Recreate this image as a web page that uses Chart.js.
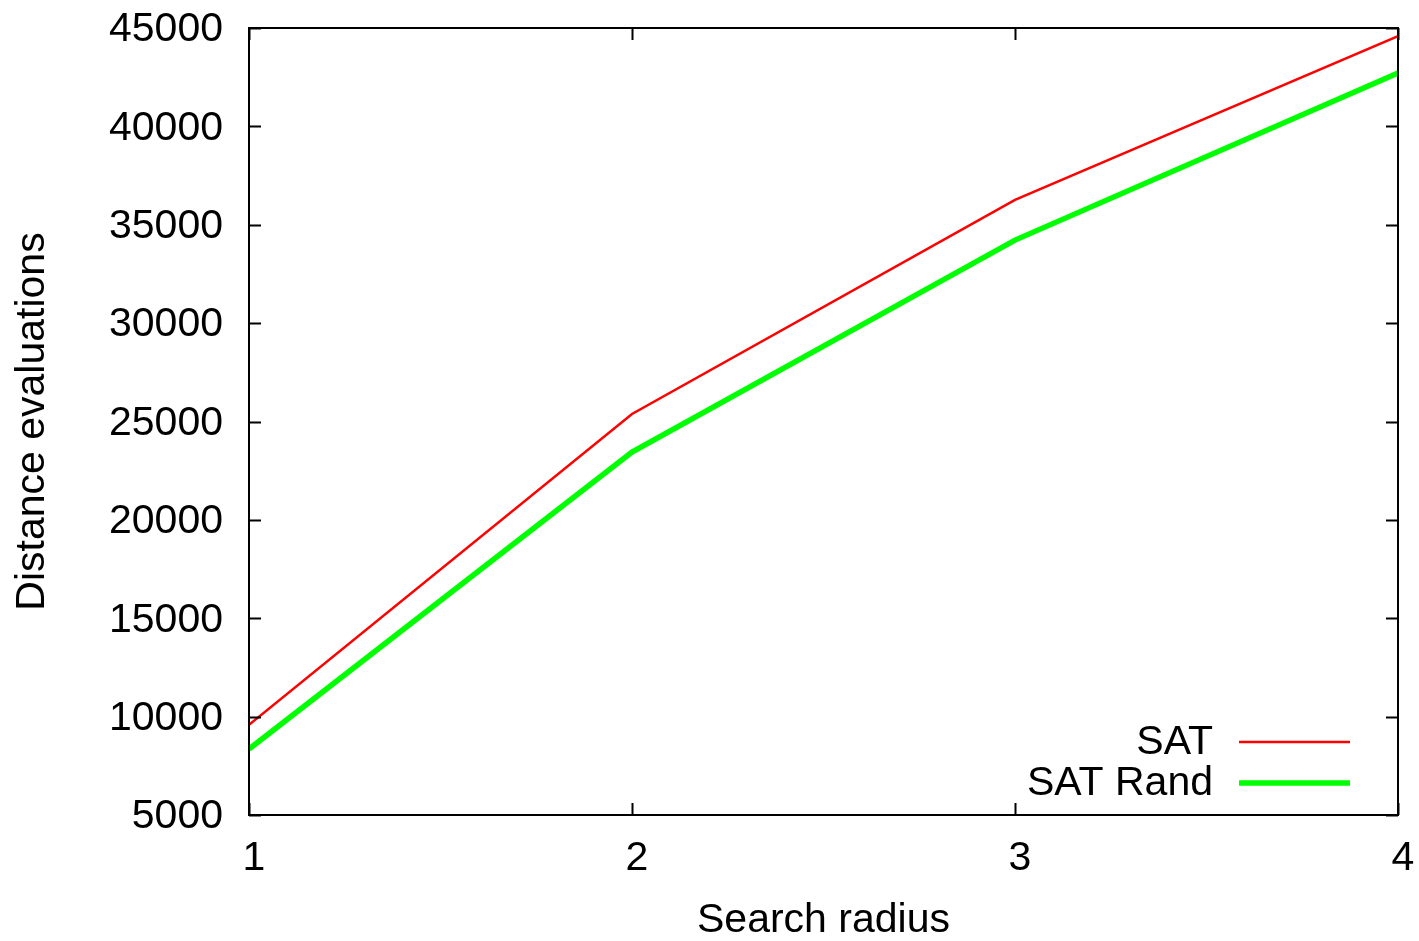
<!DOCTYPE html>
<html>
<head>
<meta charset="utf-8">
<script src="https://cdn.jsdelivr.net/npm/chart.js@4/dist/chart.umd.min.js"></script>
<style>
  html, body { margin: 0; padding: 0; background: #fff; }
  canvas { display: block; }
</style>
</head>
<body>
<canvas id="c" width="1419" height="941"></canvas>
<script>
// Search radius on the x axis
const radius = [1, 2, 3, 4];
// Distance evaluations for each variant
const satEvals = [9580, 25380, 36260, 44590];
const satRandEvals = [8350, 23450, 34220, 42710];
const seriesNames = ['SAT', 'SAT Rand'];
const yTicks = [5000, 10000, 15000, 20000, 25000, 30000, 35000, 40000, 45000];
const xTicks = [1, 2, 3, 4];

const FONT = '"Liberation Sans", Arial, Helvetica, sans-serif';
const FONT_SIZE = 41;
const TICK_LEN = 12;

// Frame, mirrored inward tick marks and the in-plot key
const framePlugin = {
  id: 'frame',
  afterDatasetsDraw(chart) {
    const { ctx, chartArea: a, scales } = chart;
    ctx.save();
    ctx.strokeStyle = '#000';
    ctx.lineWidth = 2;
    ctx.beginPath();
    yTicks.forEach(v => {
      const y = Math.round(scales.y.getPixelForValue(v)) + 0.5;
      ctx.moveTo(a.left, y); ctx.lineTo(a.left + TICK_LEN, y);
      ctx.moveTo(a.right, y); ctx.lineTo(a.right - TICK_LEN, y);
    });
    xTicks.forEach(v => {
      const x = Math.round(scales.x.getPixelForValue(v)) + 0.5;
      ctx.moveTo(x, a.bottom); ctx.lineTo(x, a.bottom - TICK_LEN);
      ctx.moveTo(x, a.top); ctx.lineTo(x, a.top + TICK_LEN);
    });
    ctx.stroke();
    ctx.strokeRect(a.left, a.top, a.right - a.left, a.bottom - a.top);

    // key
    ctx.font = FONT_SIZE + 'px ' + FONT;
    ctx.textAlign = 'right';
    ctx.textBaseline = 'middle';
    ctx.fillStyle = '#000';
    const keyRows = [742, 783];
    chart.data.datasets.forEach((ds, i) => {
      const y = keyRows[i];
      ctx.fillText(ds.label, 1213, y + 1);
      ctx.strokeStyle = ds.borderColor;
      ctx.lineWidth = ds.borderWidth;
      ctx.beginPath();
      ctx.moveTo(1239, y);
      ctx.lineTo(1350, y);
      ctx.stroke();
    });
    ctx.restore();
  }
};

const toPoints = vals => radius.map((r, i) => ({ x: r, y: vals[i] }));

new Chart(document.getElementById('c'), {
  type: 'line',
  data: {
    datasets: [
      { label: seriesNames[0], data: toPoints(satEvals), borderColor: '#ff0000', borderWidth: 2.5, pointRadius: 0, tension: 0, fill: false },
      { label: seriesNames[1], data: toPoints(satRandEvals), borderColor: '#00ff00', borderWidth: 5.5, pointRadius: 0, tension: 0, fill: false }
    ]
  },
  options: {
    responsive: false,
    devicePixelRatio: 1,
    animation: false,
    layout: { padding: { top: 28, right: 21, left: 0, bottom: 0 } },
    plugins: { legend: { display: false }, tooltip: { enabled: false } },
    scales: {
      x: {
        type: 'linear',
        min: 1, max: 4,
        afterFit(s) { s.height = 126; s.paddingLeft = 0; s.paddingRight = 0; },
        afterBuildTicks(s) { s.ticks = xTicks.map(v => ({ value: v })); },
        grid: { display: false, drawTicks: false },
        border: { display: false },
        ticks: { color: '#000', padding: 19, labelOffset: 5, font: { family: FONT, size: FONT_SIZE }, maxRotation: 0 },
        title: { display: true, text: 'Search radius', color: '#000', font: { family: FONT, size: FONT_SIZE, lineHeight: 1.0 }, padding: { top: 0, bottom: 0 } }
      },
      y: {
        type: 'linear',
        min: 5000, max: 45000,
        afterFit(s) { s.width = 249; s.paddingTop = 0; s.paddingBottom = 0; },
        afterBuildTicks(s) { s.ticks = yTicks.map(v => ({ value: v })); },
        grid: { display: false, drawTicks: false },
        border: { display: false },
        ticks: { color: '#000', padding: 26, labelOffset: 2, font: { family: FONT, size: FONT_SIZE }, callback: v => String(v) },
        title: { display: true, text: 'Distance evaluations', color: '#000', font: { family: FONT, size: FONT_SIZE }, padding: { top: 8, bottom: 0 } }
      }
    }
  },
  plugins: [framePlugin]
});
</script>
</body>
</html>
